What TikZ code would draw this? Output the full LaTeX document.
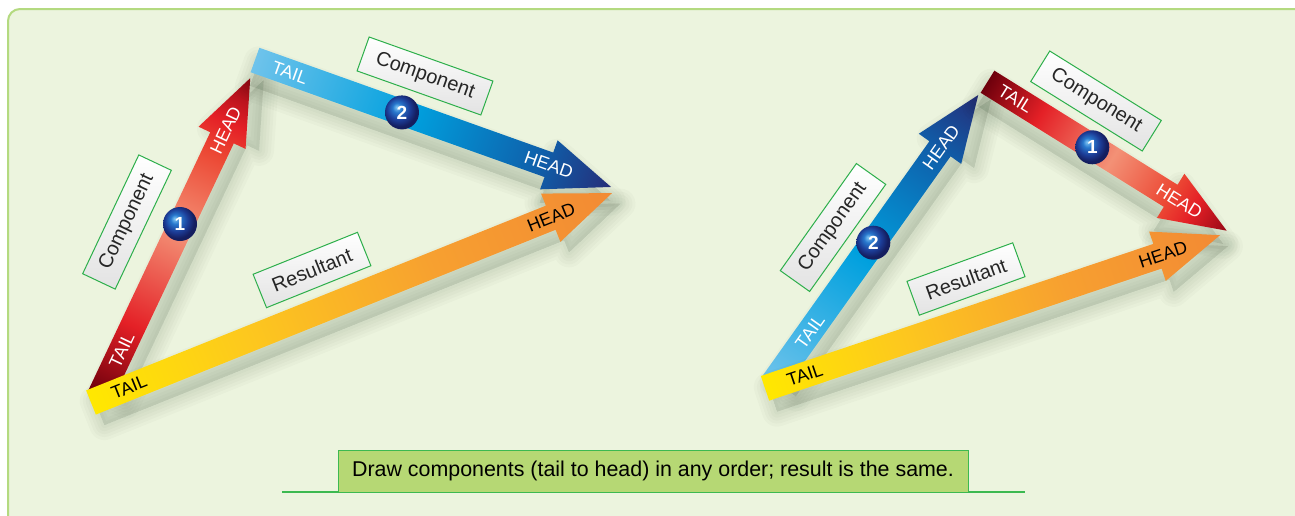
\documentclass[tikz,border=0pt]{standalone}
\usepackage{fontspec}
\setmainfont{Liberation Sans}
\usetikzlibrary{positioning}

\definecolor{panelbg}{RGB}{236,244,222}
\definecolor{panelline}{RGB}{180,218,128}
\definecolor{boxgreen}{RGB}{45,175,75}
\definecolor{capfill}{RGB}{182,216,116}
\definecolor{capline}{RGB}{60,185,80}
\definecolor{redA}{RGB}{110,0,12}
\definecolor{redB}{RGB}{228,32,38}
\definecolor{redC}{RGB}{243,145,118}
\definecolor{redD}{RGB}{236,72,52}
\definecolor{redE}{RGB}{150,8,22}
\definecolor{blueA}{RGB}{110,195,235}
\definecolor{blueB}{RGB}{0,160,222}
\definecolor{blueC}{RGB}{15,95,170}
\definecolor{blueD}{RGB}{38,45,120}
\definecolor{yelA}{RGB}{255,232,0}
\definecolor{yelB}{RGB}{253,200,30}
\definecolor{yelC}{RGB}{247,160,48}
\definecolor{yelD}{RGB}{242,138,52}
\definecolor{ballA}{RGB}{130,200,245}
\definecolor{ballB}{RGB}{40,120,205}
\definecolor{ballC}{RGB}{28,60,150}
\definecolor{ballD}{RGB}{20,30,95}

\pgfdeclarehorizontalshading{redvec}{100bp}{color(0bp)=(redA); color(25bp)=(redA);
  color(36bp)=(redB); color(51bp)=(redC); color(63bp)=(redD); color(68bp)=(redB);
  color(75bp)=(redE); color(100bp)=(redE)}
\pgfdeclarehorizontalshading{bluevec}{100bp}{color(0bp)=(blueA); color(25bp)=(blueA);
  color(47bp)=(blueB); color(65bp)=(blueC); color(75bp)=(blueD); color(100bp)=(blueD)}
\pgfdeclarehorizontalshading{yelvec}{100bp}{color(0bp)=(yelA); color(25bp)=(yelA);
  color(40bp)=(yelB); color(58bp)=(yelC); color(75bp)=(yelD); color(100bp)=(yelD)}
\pgfdeclareradialshading{sphere}{\pgfpoint{-8bp}{8bp}}{color(0bp)=(ballA);
  color(7bp)=(ballB); color(17bp)=(ballC); color(25bp)=(ballD); color(50bp)=(ballD)}

% arrow body along +x: #1 length, #2 shading
\newcommand{\vecbody}[2]{%
  \foreach \w in {30,24,18,12,6}
    \filldraw[vshadow, line width=\w pt, shift={(4,-13)}]
      (0,13) -- ({#1-66},13) -- ({#1-66},26) -- (#1,0) -- ({#1-66},-26) -- ({#1-66},-13) -- (0,-13) -- cycle;
  \shade[shading=#2]
      (0,13) -- ({#1-66},13) -- ({#1-66},26) -- (#1,0) -- ({#1-66},-26) -- ({#1-66},-13) -- (0,-13) -- cycle;}

\begin{document}
\begin{tikzpicture}[x=1pt, y=1pt,
    vecframe/.style 2 args={transform canvas={shift={#1}, rotate=#2}},
    vshadow/.style={draw=black!90!green, fill=black!90!green, opacity=0.018, line join=round},
    tag/.style={inner sep=0pt, text=white, font=\fontsize{18}{18}\selectfont},
    darktag/.style={tag, text=black},
    tagbox/.style={draw=boxgreen, line width=1pt, top color=white, bottom color=gray!22,
      minimum height=36pt, inner xsep=14pt, text=black!85, font=\fontsize{20}{20}\selectfont},
    ball/.style={circle, minimum size=34pt, inner sep=0pt, shade, shading=sphere,
      text=white, font=\fontsize{19}{19}\selectfont\bfseries},
    note/.style={draw=capline, line width=0.8pt, fill=capfill, minimum width=630pt,
      minimum height=42pt, font=\fontsize{21.4}{21.4}\selectfont}]
  \useasboundingbox (0,0) rectangle (1295,-515);
  \fill[white] (0,0) rectangle (1295,-515);
  \draw[panelline, line width=2pt, fill=panelbg, rounded corners=12pt]
    (8,-540) -- (8,-9) -- (1330,-9) -- (1330,-540) -- cycle;

  % left triangle
  \begin{scope}[vecframe={(100,-396)}{64.7}]
    \vecbody{351.6}{redvec}
    \node[tag] (tailAL) at (51,0) {TAIL};
    \node[tag] (headAL) at (294,0) {HEAD};
  \end{scope}
  \begin{scope}[vecframe={(255,-60)}{-19.63}]
    \vecbody{378}{bluevec}
    \node[tag] (tailBL) at (37,0) {TAIL};
    \node[tag] (headBL) at (312,0) {HEAD};
  \end{scope}
  \begin{scope}[vecframe={(91,-402.5)}{21.9}]
    \vecbody{561.5}{yelvec}
    \node[darktag] (tailRL) at (41,0) {TAIL};
    \node[darktag] (headRL) at (496,0) {HEAD};
  \end{scope}

  % right triangle
  \begin{scope}[vecframe={(772.3,-384.5)}{54.57}]
    \vecbody{355.3}{bluevec}
    \node[tag] (tailBR) at (65,0) {TAIL};
    \node[tag] (headBR) at (291,0) {HEAD};
  \end{scope}
  \begin{scope}[vecframe={(987.5,-81.7)}{-31.92}]
    \vecbody{281.8}{redvec}
    \node[tag] (tailAR) at (33,0) {TAIL};
    \node[tag] (headAR) at (226,0) {HEAD};
  \end{scope}
  \begin{scope}[vecframe={(765,-388.3)}{18.6}]
    \vecbody{480.1}{yelvec}
    \node[darktag] (tailRR) at (42,0) {TAIL};
    \node[darktag] (headRR) at (420,0) {HEAD};
  \end{scope}

  \node[ball] (oneL) at (180,-224) {1};
  \node[ball] (twoL) at (402,-112.4) {2};
  \node[ball] (oneR) at (1092.3,-147.3) {1};
  \node[ball] (twoR) at (873.3,-242.7) {2};

  \node[tagbox, rotate=64.7] (compAL) at (127,-222) {Component};
  \node[tagbox, rotate=-19.6] (compBL) at (425,-76) {Component};
  \node[tagbox, rotate=21.9] (resL) at (312,-270) {Resultant};
  \node[tagbox, rotate=54.6] (compBR) at (833,-227.5) {Component};
  \node[tagbox, rotate=-31.9] (compAR) at (1096,-101) {Component};
  \node[tagbox, rotate=20] (resR) at (966,-279) {Resultant};

  \coordinate (ruleL) at (282,-492);
  \coordinate (ruleR) at (1025,-492);
  \draw[capline, line width=1.2pt] (ruleL) -- (ruleR);
  \node[note] (rule) at (653,-471) {Draw components (tail to head) in any order; result is the same.};
\end{tikzpicture}
\end{document}
